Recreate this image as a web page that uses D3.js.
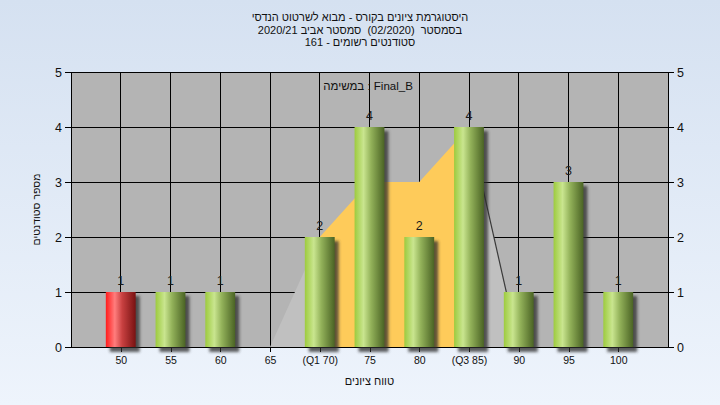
<!DOCTYPE html>
<html><head><meta charset="utf-8">
<script src="https://cdn.jsdelivr.net/npm/d3@7/dist/d3.min.js"></script>
<style>
body{margin:0;overflow:hidden;background:#e3ecf7;}
svg{display:block;}
text{font-family:"Liberation Sans","DejaVu Sans",Arial,sans-serif;}
</style>
</head><body>
<svg id="chart" width="720" height="405"></svg>
<script>
// ---- data ----
const categories = ["50","55","60","65","(Q1 70)","75","80","(Q3 85)","90","95","100"];
const counts = [1,1,1,0,2,4,2,4,1,3,1];
const failing = [true,false,false,false,false,false,false,false,false,false,false];
const curveValues = [null,null,null,0,2,3,3,4,0,null,null];
const q1Index = 4;
const q3Index = 7;
const yTicks = [0,1,2,3,4,5];
const titleLines = [
  "היסטוגרמת ציונים בקורס - מבוא לשרטוט הנדסי",
  "בסמסטר  (02/2020)  סמסטר אביב 2020/21",
  "סטודנטים רשומים - 161"
];
const subtitle = "במשימה : Final_B";
const xTitle = "טווח ציונים";
const yTitle = "מספר סטודנטים";

// ---- layout ----
const W = 720, H = 405;
const L = 71, R = 668, T = 72, B = 347;

const svg = d3.select("#chart");
const defs = svg.append("defs");

const bg = defs.append("linearGradient").attr("id","bg").attr("x1",0).attr("y1",0).attr("x2",0).attr("y2",1);
bg.append("stop").attr("offset","0%").attr("stop-color","#d5e1f1");
bg.append("stop").attr("offset","100%").attr("stop-color","#eef4fc");

function cyl(id, stops){
  const g = defs.append("linearGradient").attr("id",id).attr("x1",0).attr("y1",0).attr("x2",1).attr("y2",0);
  stops.forEach(s=>g.append("stop").attr("offset",s[0]).attr("stop-color",s[1]));
}
cyl("green", [["0%","#9dcb3e"],["30%","#c9e58f"],["55%","#93b25a"],["100%","#4a6324"]]);
cyl("red", [["0%","#ff1c1c"],["30%","#ff7d7d"],["55%","#c84040"],["100%","#781212"]]);

const sh = defs.append("filter").attr("id","shadow").attr("x","-50%").attr("y","-50%").attr("width","200%").attr("height","200%");
sh.append("feGaussianBlur").attr("stdDeviation",1.8);

svg.append("rect").attr("width",W).attr("height",H).attr("fill","url(#bg)");

const x = d3.scalePoint().domain(categories).range([L,R]).padding(1);
const y = d3.scaleLinear().domain([0,5]).range([B,T]);
const bw = x.step()*0.6;

// plot background
svg.append("rect").attr("x",L).attr("y",T).attr("width",R-L).attr("height",B-T).attr("fill","#b4b4b4");

// gridlines
const grid = svg.append("g").attr("stroke","#000").attr("stroke-width",1).attr("shape-rendering","crispEdges");
yTicks.forEach(t=>grid.append("line").attr("x1",L).attr("x2",R).attr("y1",y(t)).attr("y2",y(t)));
categories.forEach(c=>grid.append("line").attr("x1",x(c)).attr("x2",x(c)).attr("y1",T).attr("y2",B));

// distribution area (grey tails, yellow inter-quartile part)
const pts = categories.map((c,i)=>({c,i,v:curveValues[i]})).filter(d=>d.v!==null);
const area = d3.area().x(d=>x(d.c)).y0(y(0)).y1(d=>y(d.v));
const seg = (a,b)=>pts.filter(d=>d.i>=a && d.i<=b);
const firstI = pts[0].i, lastI = pts[pts.length-1].i;
svg.append("path").attr("d",area(seg(firstI,q1Index))).attr("fill","#c0c0c0");
svg.append("path").attr("d",area(seg(q3Index,lastI))).attr("fill","#c0c0c0");
svg.append("path").attr("d",area(seg(q1Index,q3Index))).attr("fill","#fecb5a");
svg.append("path").attr("d",d3.line().x(d=>x(d.c)).y(d=>y(d.v))(seg(q3Index,lastI)))
  .attr("fill","none").attr("stroke","#3a3a3a").attr("stroke-width",1.2);

// axes
const yl = svg.append("g").attr("transform",`translate(${L},0)`).call(d3.axisLeft(y).tickValues(yTicks).tickSize(6).tickPadding(3).tickFormat(d3.format("d")));
const yr = svg.append("g").attr("transform",`translate(${R},0)`).call(d3.axisRight(y).tickValues(yTicks).tickSize(6).tickPadding(3).tickFormat(d3.format("d")));
const xa = svg.append("g").attr("transform",`translate(0,${B})`).call(d3.axisBottom(x).tickSize(5).tickPadding(5));
[yl,yr,xa].forEach(g=>{
  g.select(".domain").remove();
  g.selectAll("line").attr("stroke","#000").attr("shape-rendering","crispEdges");
  g.selectAll("text").attr("fill","#111").style("font-family",'"Liberation Sans","DejaVu Sans",Arial,sans-serif');
});
yl.selectAll("text").attr("font-size",12.5);
yr.selectAll("text").attr("font-size",12.5);
xa.selectAll("text").attr("font-size",10.5);

// plot frame
svg.append("rect").attr("x",L).attr("y",T).attr("width",R-L).attr("height",B-T)
  .attr("fill","none").attr("stroke","#000").attr("shape-rendering","crispEdges");

// bars with soft shadows
const bars = svg.append("g");
categories.forEach((c,i)=>{
  const v = counts[i];
  if(!v) return;
  bars.append("rect").attr("x",x(c)-bw/2+4).attr("y",y(v)+4).attr("width",bw).attr("height",y(0)-y(v)+1)
    .attr("fill","#2a2a2a").attr("opacity",0.75).attr("filter","url(#shadow)");
});
categories.forEach((c,i)=>{
  const v = counts[i];
  if(!v) return;
  bars.append("rect").attr("x",x(c)-bw/2).attr("y",y(v)).attr("width",bw).attr("height",y(0)-y(v))
    .attr("fill",failing[i]?"url(#red)":"url(#green)");
});
// value labels
categories.forEach((c,i)=>{
  const v = counts[i];
  if(!v) return;
  svg.append("text").attr("x",x(c)).attr("y",y(v)-7.5).attr("text-anchor","middle")
    .attr("font-size",12.5).attr("fill","#1a1a1a").text(v);
});

// titles
titleLines.forEach((t,i)=>{
  svg.append("text").attr("x",360).attr("y",21+i*12.7).attr("text-anchor","middle")
    .attr("font-size",11).attr("fill","#111").style("white-space","pre").text(t);
});
svg.append("text").attr("x",368).attr("y",90).attr("text-anchor","middle")
  .attr("font-size",11.5).attr("fill","#111").text(subtitle);
svg.append("text").attr("x",(L+R)/2).attr("y",385).attr("text-anchor","middle")
  .attr("font-size",11).attr("fill","#111").text(xTitle);
svg.append("text").attr("transform",`translate(40,${(T+B)/2}) rotate(-90)`).attr("text-anchor","middle")
  .attr("font-size",10.5).attr("fill","#111").text(yTitle);
</script>
</body></html>
